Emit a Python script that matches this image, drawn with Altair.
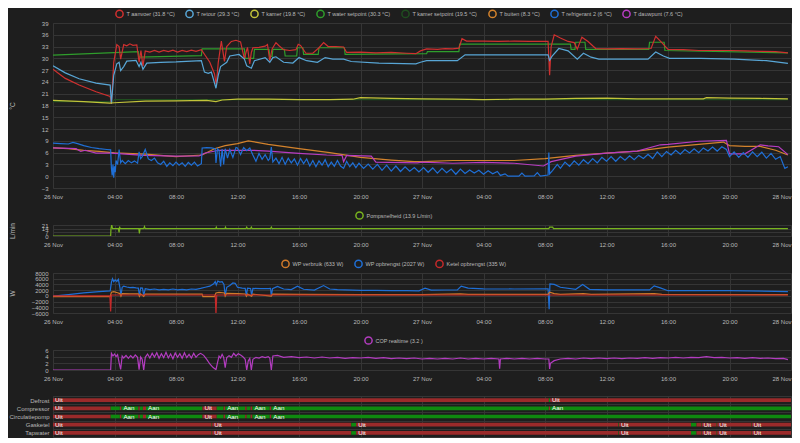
import altair as alt
import pandas as pd

BG = "#1e1e1e"
GRID = "#353535"
TXT = "#b9b9b9"
FONT = "Liberation Sans"
W = 738

hour_ticks = list(range(0, 49, 4))
x_label_expr = ("datum.value % 24 == 0 ? (26 + datum.value / 24) + ' Nov' : "
                "(datum.value % 24 < 10 ? '0' : '') + (datum.value % 24) + ':00'")

# ---------------- main temperature panel ----------------
main_names = ["T aanvoer (31.8 °C)", "T retour (29.3 °C)", "T kamer (19.8 °C)",
              "T water setpoint (30.3 °C)", "T kamer setpoint (19.5 °C)",
              "T buiten (8.3 °C)", "T refrigerant 2 (6 °C)", "T dauwpunt (7.6 °C)"]
main_colors = ["#d0302f", "#58a6d6", "#c3c43a", "#2f9e2c", "#1f4d1f",
               "#d4832c", "#1f6fd6", "#b83cc2"]

aanvoer = [(0, 27.2), (0.8, 24.9), (1.7, 23.2), (2.8, 21.5), (3.72, 20.3), (3.8, 18.4), (3.95, 29.0),
           (4.15, 33.5), (4.3, 33.0), (4.4, 29.8), (4.6, 33.5), (4.8, 33.2), (5.0, 33.7), (5.2, 33.3),
           (5.45, 33.4), (5.6, 29.0), (5.72, 32.0), (5.85, 28.0), (6.0, 31.9), (6.3, 31.6), (6.6, 32.0),
           (6.9, 31.6), (7.2, 32.0), (7.5, 31.7), (7.8, 32.1), (8.1, 31.6), (8.4, 32.0), (8.7, 31.7),
           (9.0, 32.1), (9.3, 31.8), (9.65, 32.2), (10.2, 29.0), (10.5, 26.1), (10.62, 23.3), (10.75, 29.0),
           (10.95, 34.4), (11.15, 29.2), (11.3, 33.0), (11.6, 34.3), (11.9, 34.6), (12.2, 34.2),
           (12.45, 29.8), (12.55, 31.5), (12.65, 32.8), (12.8, 28.6), (12.9, 31.5), (13.0, 32.7),
           (13.4, 32.8), (13.8, 33.1), (13.95, 33.5), (14.1, 29.4), (14.25, 32.4), (14.5, 34.0),
           (14.7, 33.2), (15.0, 32.2), (15.4, 32.0), (15.8, 32.2), (15.95, 33.6), (16.1, 33.3),
           (16.45, 31.3), (16.9, 31.3), (17.3, 32.7), (17.6, 34.0), (17.9, 33.0), (18.4, 33.0),
           (18.9, 32.9), (19.1, 31.5), (20.0, 31.6), (21.0, 31.4), (22.0, 31.5), (23.0, 31.3),
           (23.6, 31.2), (23.9, 31.9), (24.3, 32.4), (25.0, 32.3), (25.5, 32.5), (26.0, 32.4),
           (26.4, 32.6), (26.6, 35.0), (26.9, 34.4), (28.0, 34.4), (29.0, 34.3), (30.0, 34.4),
           (31.0, 34.3), (32.2, 34.3), (32.3, 25.7), (32.4, 33.0), (32.6, 36.0), (33.0, 35.2),
           (33.5, 34.3), (33.9, 34.0), (34.1, 32.3), (34.4, 35.4), (34.8, 34.3), (35.1, 33.2),
           (35.3, 32.5), (36.0, 32.4), (37.0, 32.5), (38.0, 32.4), (38.9, 32.5), (39.2, 35.6),
           (39.6, 34.0), (40.0, 32.3), (41.0, 32.2), (42.0, 32.0), (43.0, 32.0), (44.0, 32.0),
           (45.0, 31.9), (46.0, 31.8), (47.0, 31.7), (47.8, 31.4)]

retour = [(0, 28.1), (0.8, 26.3), (1.7, 24.8), (2.8, 23.7), (3.72, 23.2), (3.8, 18.5), (3.95, 25.7),
          (4.15, 28.6), (4.3, 29.0), (4.4, 26.9), (4.6, 27.9), (4.8, 29.3), (5.4, 29.5), (5.6, 27.9),
          (5.72, 29.0), (5.85, 27.2), (6.1, 28.8), (7.0, 29.0), (8.0, 29.1), (9.0, 29.3), (9.65, 29.4),
          (9.85, 26.5), (10.1, 26.2), (10.3, 26.5), (10.6, 22.4), (10.75, 25.7), (10.9, 27.9),
          (11.3, 29.0), (11.5, 30.6), (12.1, 31.0), (12.45, 29.8), (12.6, 28.1), (12.9, 27.5),
          (13.1, 29.4), (13.8, 30.2), (14.1, 29.0), (14.3, 30.2), (14.5, 30.4), (15.0, 29.0),
          (15.6, 28.8), (16.0, 30.2), (16.5, 29.4), (17.2, 29.0), (17.7, 30.2), (18.2, 29.8),
          (18.9, 29.8), (19.4, 29.2), (21.2, 28.8), (23.6, 28.6), (23.9, 29.0), (24.3, 29.4),
          (26.3, 29.4), (26.8, 30.9), (29.0, 30.9), (32.2, 30.9), (32.3, 29.5), (32.45, 30.5),
          (32.9, 32.5), (33.5, 31.9), (34.1, 29.8), (34.5, 31.3), (35.0, 30.3), (35.5, 29.8),
          (38.7, 29.8), (39.2, 31.6), (39.7, 30.6), (40.1, 30.0), (42.1, 30.0), (44.3, 29.8),
          (46.4, 29.4), (47.8, 28.7)]

kamer = [(0, 19.3), (2, 19.0), (3.7, 18.6), (4.0, 18.7), (6, 19.1), (8, 19.2), (10, 19.3), (10.6, 19.0),
         (11, 19.4), (12, 19.6), (14, 19.6), (16, 19.5), (18, 19.5), (19.5, 19.6), (20, 20.0), (22, 19.8),
         (24, 19.7), (26, 19.6), (28, 19.5), (30, 19.6), (32, 19.6), (34, 19.8), (36, 19.9), (38, 19.7),
         (40, 19.7), (42.3, 19.7), (42.5, 20.0), (44, 19.9), (46, 19.8), (47.8, 19.7)]

water_setpoint = [(0, 30.8), (5.55, 31.7), (5.6, 30.3), (9.65, 30.7), (9.7, 32.4), (12.45, 32.4),
                  (12.5, 30.0), (13.05, 30.0), (13.1, 32.3), (14.05, 32.3), (14.1, 30.5), (14.25, 30.5),
                  (14.3, 32.3), (15.05, 32.3), (15.1, 30.6), (15.85, 30.6), (15.9, 32.7), (16.25, 32.7),
                  (16.3, 31.0), (17.25, 31.0), (17.3, 32.7), (18.95, 32.7), (19.0, 31.0), (24.3, 31.2),
                  (24.35, 31.7), (26.4, 31.7), (26.45, 33.6), (33.65, 33.6), (33.7, 32.3), (33.95, 32.3),
                  (34.0, 34.1), (34.6, 34.1), (34.65, 32.3), (38.75, 32.3), (38.8, 34.1), (39.75, 34.1),
                  (39.8, 32.0), (47.8, 31.4)]

kamer_setpoint = [(0, 19.0), (3.9, 19.0), (4.0, 19.5), (47.8, 19.5)]

buiten = [(0, 7.2), (1, 7.0), (2, 6.6), (3, 6.3), (4, 5.95), (6, 5.6), (8, 5.0), (9.7, 5.4), (10.5, 7.0),
          (11.2, 7.8), (12, 8.3), (12.7, 9.0), (14, 8.1), (16, 7.0), (18, 6.0), (20, 4.8), (22, 4.1),
          (23.5, 3.7), (24, 3.7), (26, 4.0), (28, 4.0), (30, 4.0), (32, 4.5), (34, 5.3), (36, 5.9),
          (38, 6.4), (40, 7.4), (42, 8.1), (43.6, 8.7), (44, 7.8), (45, 7.6), (46, 7.6), (47, 6.6),
          (47.8, 5.4)]

refrigerant = [(0, 8.4), (0.5, 8.3), (1.0, 8.2), (1.3, 8.6), (1.6, 8.3), (2.0, 7.8), (2.5, 7.3), (3.0, 7.0),
               (3.5, 6.8), (3.75, 6.7), (3.8, 2.0), (3.85, 0.2), (3.9, 3.0), (3.95, -0.4), (4.0, 2.5),
               (4.05, 1.0), (4.1, 4.0), (4.2, 3.0), (4.3, 6.8), (4.4, 3.4), (4.5, 4.0), (4.7, 3.2),
               (4.9, 4.0), (5.1, 3.4), (5.3, 3.9), (5.5, 3.3), (5.6, 6.2), (5.7, 4.5), (5.8, 5.0),
               (6.0, 6.8), (6.2, 4.4), (6.4, 4.0), (6.6, 4.6), (6.8, 3.4), (7.0, 3.0), (7.2, 3.8),
               (7.4, 2.5), (7.6, 3.4), (7.8, 2.7), (8.0, 3.6), (8.2, 2.8), (8.4, 3.4), (8.6, 2.5),
               (8.8, 3.5), (9.0, 2.8), (9.2, 3.6), (9.4, 2.6), (9.65, 3.2), (9.7, 7.2), (10.0, 7.3),
               (10.3, 7.2), (10.55, 7.0), (10.6, 3.4), (10.7, 7.0), (10.8, 6.5), (10.9, 2.5), (11.0, 6.9),
               (11.1, 3.0), (11.2, 7.0), (11.35, 4.6), (11.5, 6.8), (11.7, 4.8), (11.9, 7.3), (12.0, 7.2),
               (12.2, 5.5), (12.4, 7.3), (12.6, 6.5), (12.8, 7.2), (13.0, 5.4), (13.2, 3.8), (13.4, 5.8),
               (13.6, 4.3), (13.8, 5.5), (14.0, 4.0), (14.1, 4.5), (14.2, 7.4), (14.3, 3.6), (14.5, 4.6),
               (14.7, 3.2), (14.9, 4.8), (15.1, 3.0), (15.3, 4.6), (15.5, 3.4), (15.7, 4.4), (15.9, 2.8),
               (16.1, 4.5), (16.3, 3.2), (16.5, 4.4), (16.7, 2.6), (16.9, 4.0), (17.1, 2.4), (17.3, 3.9),
               (17.5, 2.8), (17.7, 4.2), (17.9, 2.4), (18.1, 3.6), (18.3, 2.5), (18.5, 4.0), (18.7, 2.6),
               (18.9, 2.0), (19.1, 3.8), (19.3, 2.4), (19.5, 3.4), (19.7, 2.2), (19.9, 3.3), (20.2, 2.0),
               (20.5, 3.1), (20.8, 1.8), (21.1, 3.0), (21.4, 1.5), (21.7, 2.8), (22.0, 1.3), (22.3, 2.6),
               (22.6, 1.2), (22.9, 2.4), (23.2, 1.3), (23.5, 2.2), (23.8, 1.1), (24.1, 2.2), (24.4, 1.0),
               (24.7, 2.1), (25.0, 0.8), (25.3, 2.0), (25.6, 0.9), (25.9, 1.8), (26.2, 0.5), (26.5, 1.8),
               (26.8, 0.7), (27.1, 1.6), (27.4, 0.8), (27.7, 1.5), (28.0, 0.5), (28.3, 1.4), (28.6, 0.6),
               (28.9, 1.2), (29.1, 0.2), (29.4, 0.6), (29.6, 0.0), (30.3, 0.0), (30.5, 0.8), (30.7, 0.0),
               (31.3, 0.1), (31.5, 0.9), (31.7, 0.0), (32.2, 0.3), (32.25, 6.0), (32.3, 0.6), (32.5, 1.5),
               (32.8, 3.0), (33.0, 2.0), (33.3, 3.6), (33.6, 2.5), (33.9, 3.9), (34.2, 2.8), (34.5, 4.2),
               (34.8, 3.2), (35.1, 4.5), (35.4, 3.4), (35.7, 4.8), (36.0, 3.8), (36.3, 5.0), (36.6, 3.8),
               (36.9, 5.0), (37.2, 4.1), (37.5, 5.2), (37.8, 4.2), (38.1, 5.3), (38.4, 4.5), (38.7, 5.6),
               (39.0, 4.5), (39.3, 6.2), (39.6, 5.0), (39.9, 6.3), (40.2, 5.4), (40.5, 6.6), (40.8, 5.6),
               (41.1, 6.8), (41.4, 5.9), (41.7, 7.0), (42.0, 6.0), (42.3, 7.2), (42.6, 6.4), (42.9, 7.4),
               (43.2, 6.4), (43.5, 7.5), (43.8, 6.8), (44.0, 5.0), (44.3, 6.2), (44.6, 4.8), (44.9, 6.0),
               (45.2, 4.8), (45.5, 6.2), (45.8, 5.0), (46.1, 6.1), (46.4, 4.6), (46.7, 5.8), (47.0, 4.3),
               (47.3, 5.0), (47.6, 2.0), (47.8, 2.4)]

dauwpunt = [(0, 7.2), (1.5, 7.0), (1.8, 6.3), (2.1, 6.6), (2.8, 5.9), (3.8, 5.9), (5.9, 5.3), (8, 5.1),
            (9.5, 5.2), (9.9, 5.9), (10.8, 6.6), (12, 6.6), (13, 6.6), (14, 6.4), (16, 5.8), (17.8, 5.4),
            (18.8, 5.3), (18.9, 3.7), (19.1, 5.3), (20.7, 5.1), (21.0, 3.6), (23.7, 3.4), (24, 3.6),
            (26, 3.3), (28, 3.5), (30, 3.3), (31.9, 2.6), (32.4, 3.7), (34, 5.1), (36, 5.9), (38, 6.4),
            (39.5, 8.0), (40, 8.1), (42, 8.9), (43.8, 9.1), (44.0, 5.7), (45, 5.7), (46, 8.0), (46.5, 7.7),
            (47.2, 7.5), (47.8, 5.5)]

main_series = [aanvoer, retour, kamer, water_setpoint, kamer_setpoint, buiten, refrigerant, dauwpunt]
main_draw_order = [4, 3, 0, 1, 2, 5, 7, 6]

# ---------------- pump speed ----------------
pump_names = ["Pompsnelheid (13.9 L/min)"]
pump_colors = ["#78b41e"]
pompsnelheid = [(0, 0), (3.75, 0), (3.77, 13.9), (3.82, 21), (3.87, 13.9), (4.25, 13.9), (4.3, 7),
                (4.33, 18), (4.37, 13.9), (5.58, 13.9), (5.62, 5), (5.66, 13.9), (5.9, 13.9), (5.95, 18),
                (6.0, 13.9), (10.58, 13.9), (10.62, 17), (10.66, 13.9), (11.18, 13.9), (11.22, 17),
                (11.26, 13.9), (12.55, 13.9), (12.6, 17), (12.65, 13.9), (12.85, 13.9), (12.9, 17),
                (12.95, 13.9), (14.15, 13.9), (14.2, 17), (14.25, 13.9), (32.25, 13.9), (32.3, 17),
                (32.5, 17), (32.55, 13.9), (47.8, 13.9)]

# ---------------- power ----------------
power_names = ["WP verbruik (633 W)", "WP opbrengst (2027 W)", "Ketel opbrengst (335 W)"]
power_colors = ["#d07a2a", "#1f6fd6", "#c52a2a"]
wp_verbruik = [(0, -250), (3.72, -250), (3.8, 1300), (3.95, 1500), (4.2, 1100), (4.35, 800), (4.42, -150),
               (4.5, 800), (5.0, 700), (5.55, 700), (5.62, -150), (5.7, 700), (5.9, -150), (6.0, 600),
               (9.7, 600), (9.75, -250), (10.5, -250), (10.6, 1000), (10.8, 1200), (11.15, 1000),
               (11.2, -100), (11.3, 900), (12.0, 800), (12.5, 650), (12.58, -100), (12.65, 600),
               (12.92, -100), (13.0, 600), (14.2, -100), (14.28, 600), (16, 500), (20, 450), (24, 450),
               (26.5, 700), (27, 500), (32.2, 500), (32.3, 1300), (32.6, 800), (33, 550), (34.5, 800),
               (35, 500), (39.1, 750), (39.6, 500), (47.8, 400)]
wp_opbrengst = [(0, -100), (1, 460), (2, 1040), (3, 1510), (3.72, 1750), (3.8, 4800), (3.87, 6000),
                (3.95, 5000), (4.05, 5600), (4.15, 5000), (4.25, 5800), (4.35, 3000), (4.42, 100),
                (4.5, 3000), (4.6, 3400), (4.8, 3100), (5.0, 2900), (5.2, 3000), (5.4, 2800), (5.55, 2700),
                (5.62, 100), (5.7, 2800), (5.82, 2700), (5.9, 100), (6.0, 2500), (6.3, 2200), (6.6, 2400),
                (6.9, 2100), (7.2, 2300), (7.5, 2100), (7.8, 2400), (8.1, 2100), (8.4, 2300), (8.7, 2100),
                (9.0, 2400), (9.3, 2300), (9.6, 2600), (9.9, 3000), (10.2, 3400), (10.45, 4200),
                (10.55, 5000), (10.62, 3800), (10.72, 5200), (10.85, 4800), (11.0, 5000), (11.12, 4000),
                (11.2, 100), (11.3, 3000), (11.5, 3600), (11.7, 4500), (11.85, 4400), (12.0, 3000),
                (12.3, 2700), (12.5, 2600), (12.58, 100), (12.65, 2700), (12.85, 2600), (12.92, 100),
                (13.0, 2600), (13.5, 2500), (14.0, 2500), (14.15, 2600), (14.2, 0), (14.28, 2500),
                (14.6, 3300), (15.0, 2400), (15.5, 2200), (15.9, 3400), (16.3, 2300), (17.0, 2000),
                (17.6, 3600), (18.0, 2400), (18.5, 2200), (19, 2100), (20, 1900), (21, 1900), (22, 1850),
                (23, 1800), (23.8, 1750), (24.2, 2700), (24.6, 2000), (25.5, 2050), (26.3, 2100),
                (26.55, 3400), (27.0, 2700), (28, 2450), (30, 2400), (32.2, 2450), (32.27, -4700),
                (32.32, 4200), (32.6, 4000), (33, 3000), (34, 2300), (34.45, 4000), (34.9, 2300),
                (36, 2100), (38.8, 2100), (39.1, 3500), (39.5, 2800), (40, 1800), (44, 1800), (47.8, 1500)]
ketel_opbrengst = [(0, 0), (3.7, 0), (3.75, -5500), (3.8, 300), (10.55, 300), (10.6, -6300),
                   (10.65, 300), (47.8, 300)]
power_series = [wp_verbruik, wp_opbrengst, ketel_opbrengst]

# ---------------- COP ----------------
cop_names = ["COP realtime (3.2 )"]
cop_colors = ["#b33cc0"]
cop = [(0, 0), (3.75, 0), (3.8, 5.0), (3.9, 4.2), (4.0, 4.8), (4.1, 4.0), (4.2, 4.6), (4.3, 2.2),
       (4.4, 0.2), (4.5, 4.2), (4.6, 3.6), (4.75, 4.4), (4.9, 3.5), (5.05, 4.3), (5.2, 3.6), (5.35, 4.5),
       (5.5, 3.8), (5.6, 0.1), (5.7, 3.9), (5.8, 3.2), (5.9, 0.0), (6.0, 3.8), (6.15, 4.8), (6.3, 3.6),
       (6.45, 5.0), (6.6, 3.9), (6.75, 5.2), (6.9, 3.5), (7.05, 4.9), (7.2, 3.7), (7.35, 5.3), (7.5, 3.6),
       (7.65, 4.8), (7.8, 3.4), (7.95, 5.1), (8.1, 3.8), (8.25, 4.9), (8.4, 3.5), (8.55, 5.2), (8.7, 3.7),
       (8.85, 4.7), (9.0, 3.6), (9.15, 5.0), (9.3, 3.8), (9.45, 4.6), (9.6, 5.0), (9.8, 4.4), (10.0, 3.2),
       (10.2, 1.8), (10.4, 0.8), (10.6, 0.1), (10.7, 2.2), (10.8, 4.2), (10.9, 3.6), (11.0, 4.7),
       (11.1, 3.8), (11.2, 0.7), (11.3, 3.7), (11.45, 4.3), (11.6, 3.8), (11.75, 5.0), (11.9, 4.2),
       (12.05, 4.9), (12.2, 4.5), (12.35, 4.0), (12.5, 3.2), (12.6, 0.0), (12.7, 2.7), (12.8, 3.5),
       (12.9, 0.0), (13.0, 3.2), (13.2, 3.8), (13.4, 3.6), (13.6, 4.0), (13.8, 3.7), (14.0, 4.0),
       (14.1, 3.6), (14.2, 0.0), (14.3, 4.2), (14.6, 4.4), (15.0, 3.8), (15.5, 4.0), (16, 3.7),
       (16.5, 3.9), (17, 3.6), (17.5, 3.9), (18, 3.6), (18.5, 3.8), (19, 3.5), (19.5, 3.7), (20, 3.6),
       (20.5, 3.8), (21, 3.5), (21.5, 3.7), (22, 3.4), (22.5, 3.6), (23, 3.4), (23.5, 3.6), (24, 3.3),
       (24.5, 3.5), (25, 3.3), (25.5, 3.5), (26, 3.3), (26.5, 3.6), (27, 3.3), (27.5, 3.5), (28, 3.3),
       (28.5, 3.5), (29.0, 3.3), (29.05, 0.4), (29.1, 3.3), (29.5, 3.5), (30, 3.3), (30.5, 3.5), (31, 3.3),
       (31.5, 3.5), (32.0, 3.3), (32.25, 3.3), (32.3, 0.3), (32.35, 2.0), (32.6, 2.8), (33, 3.3),
       (33.5, 3.5), (34, 3.3), (34.5, 3.6), (35, 3.4), (35.5, 3.6), (36, 3.4), (36.5, 3.6), (37, 3.4),
       (37.5, 3.6), (38, 3.5), (38.5, 3.7), (39, 3.5), (39.5, 3.7), (40, 3.6), (40.5, 3.8), (41, 3.6),
       (41.5, 3.8), (42, 3.7), (42.5, 4.0), (43, 3.7), (43.5, 3.8), (44, 3.6), (44.5, 3.7), (45, 3.5),
       (45.5, 3.7), (46, 3.5), (46.5, 3.6), (47, 3.4), (47.5, 3.5), (47.8, 3.1)]

# ---------------- status timeline ----------------
status_rows = ["Defrost", "Compressor", "Circulatiepomp", "Gasketel", "Tapwater"]
status_states = ["Uit", "Aan"]
status_colors = ["#9b2a2a", "#0f8a0f"]
defrost_seg = [(0, 32.25, "Uit", 1), (32.25, 32.33, "Aan", 0), (32.33, 48, "Uit", 1)]
compressor_seg = [(0, 3.75, "Uit", 1), (3.75, 4.35, "Aan", 0), (4.35, 4.45, "Uit", 0), (4.45, 5.55, "Aan", 1),
                  (5.55, 5.65, "Uit", 0), (5.65, 5.85, "Aan", 0), (5.85, 6.05, "Uit", 0), (6.05, 9.72, "Aan", 1),
                  (9.72, 10.65, "Uit", 1), (10.65, 11.1, "Aan", 0), (11.1, 11.2, "Uit", 0), (11.2, 12.5, "Aan", 1),
                  (12.5, 12.6, "Uit", 0), (12.6, 12.85, "Aan", 0), (12.85, 12.97, "Uit", 0),
                  (12.97, 14.1, "Aan", 1), (14.1, 14.2, "Uit", 0), (14.2, 32.25, "Aan", 1),
                  (32.25, 32.33, "Uit", 0), (32.33, 48, "Aan", 1)]
circulatiepomp_seg = [(0, 3.75, "Uit", 1), (3.75, 4.35, "Aan", 0), (4.35, 4.45, "Uit", 0), (4.45, 5.55, "Aan", 1),
                      (5.55, 5.65, "Uit", 0), (5.65, 5.85, "Aan", 0), (5.85, 6.05, "Uit", 0),
                      (6.05, 9.72, "Aan", 1), (9.72, 10.65, "Uit", 1), (10.65, 11.1, "Aan", 0),
                      (11.1, 11.2, "Uit", 0), (11.2, 12.5, "Aan", 1), (12.5, 12.6, "Uit", 0),
                      (12.6, 12.85, "Aan", 0), (12.85, 12.97, "Uit", 0), (12.97, 14.1, "Aan", 1),
                      (14.1, 14.2, "Uit", 0), (14.2, 48, "Aan", 1)]
gasketel_seg = [(0, 10.32, "Uit", 1), (10.32, 10.35, "Aan", 0), (10.35, 19.4, "Uit", 1),
                (19.4, 19.72, "Aan", 0), (19.72, 36.78, "Uit", 1), (36.78, 36.81, "Aan", 0),
                (36.81, 41.5, "Uit", 1), (41.5, 41.85, "Aan", 0), (41.85, 42.15, "Uit", 0),
                (42.15, 42.18, "Aan", 0), (42.18, 43.17, "Uit", 1), (43.17, 43.2, "Aan", 0),
                (43.2, 45.4, "Uit", 1), (45.4, 45.43, "Aan", 0), (45.43, 48, "Uit", 1)]
tapwater_seg = [(0, 10.32, "Uit", 1), (10.32, 10.35, "Aan", 0), (10.35, 19.4, "Uit", 1),
                (19.4, 19.72, "Aan", 0), (19.72, 36.78, "Uit", 1), (36.78, 36.81, "Aan", 0),
                (36.81, 41.5, "Uit", 1), (41.5, 41.85, "Aan", 0), (41.85, 42.15, "Uit", 0),
                (42.15, 42.18, "Aan", 0), (42.18, 43.17, "Uit", 1), (43.17, 43.2, "Aan", 0),
                (43.2, 45.4, "Uit", 1), (45.4, 45.43, "Aan", 0), (45.43, 48, "Uit", 1)]
status_segments = [defrost_seg, compressor_seg, circulatiepomp_seg, gasketel_seg, tapwater_seg]


def long_df(names, series, order=None):
    idx = order if order is not None else range(len(names))
    rows = []
    for i in idx:
        for t, v in series[i]:
            rows.append({"t": t, "v": v, "s": names[i]})
    return pd.DataFrame(rows)


last_label_align = {"condition": {"test": "datum.value == 48", "value": "right"}, "value": "center"}


def xenc(show=True):
    return alt.X("t:Q", scale=alt.Scale(domain=[0, 48], nice=False, zero=False),
                 axis=alt.Axis(values=hour_ticks, labelExpr=x_label_expr, labelFlush=False,
                               labelAlign=last_label_align, title=None, grid=True, labels=show,
                               labelPadding=5))


def leg(x, n):
    return alt.Legend(orient="none", legendX=x, legendY=-14, direction="horizontal", columns=n,
                      title=None, symbolType="circle", symbolSize=52, symbolStrokeWidth=1.5,
                      symbolFillColor="transparent", labelFontSize=5.5, labelColor=TXT,
                      labelFont=FONT, labelOffset=2.5, columnPadding=7, padding=0, labelLimit=300)


def yaxis(values, title=None, fmt=None):
    kw = dict(values=values, labelPadding=5, grid=True, labelOverlap=False)
    if fmt:
        kw["format"] = fmt
    if title:
        kw.update(title=title, titleX=-41, titleAngle=270, titleAlign="center", titleBaseline="middle")
    else:
        kw["title"] = None
    return alt.Axis(**kw)


main_df = long_df(main_names, main_series, main_draw_order)
main = alt.Chart(main_df).mark_line(strokeWidth=1.2, clip=True).encode(
    x=xenc(),
    y=alt.Y("v:Q", scale=alt.Scale(domain=[-3, 39], nice=False, zero=False),
            axis=yaxis(list(range(-3, 40, 3)), "°C")),
    color=alt.Color("s:N", scale=alt.Scale(domain=main_names, range=main_colors), legend=leg(62, 8)),
).properties(width=W, height=165)

pump_df = long_df(pump_names, [pompsnelheid])
pump = alt.Chart(pump_df).mark_line(strokeWidth=1.2, clip=True).encode(
    x=xenc(),
    y=alt.Y("v:Q", scale=alt.Scale(domain=[0, 21], nice=False, zero=False),
            axis=yaxis([0, 7, 14, 21], "L/min")),
    color=alt.Color("s:N", scale=alt.Scale(domain=pump_names, range=pump_colors), legend=leg(302, 1)),
).properties(width=W, height=11)

power_df = long_df(power_names, power_series, [1, 0, 2])
power = alt.Chart(power_df).mark_line(strokeWidth=1.2, clip=True).encode(
    x=xenc(),
    y=alt.Y("v:Q", scale=alt.Scale(domain=[-6000, 8000], nice=False, zero=False),
            axis=yaxis(list(range(-6000, 8001, 2000)), "W", "d")),
    color=alt.Color("s:N", scale=alt.Scale(domain=power_names, range=power_colors), legend=leg(228, 3)),
).properties(width=W, height=40)

cop_df = long_df(cop_names, [cop])
cop_chart = alt.Chart(cop_df).mark_line(strokeWidth=1.2, clip=True).encode(
    x=xenc(),
    y=alt.Y("v:Q", scale=alt.Scale(domain=[0, 6], nice=False, zero=False),
            axis=yaxis([0, 2, 4, 6])),
    color=alt.Color("s:N", scale=alt.Scale(domain=cop_names, range=cop_colors), legend=leg(311, 1)),
).properties(width=W, height=20)

st_rows = []
for row, segs in zip(status_rows, status_segments):
    for a, b, state, lab in segs:
        st_rows.append({"row": row, "a": a, "b": b, "state": state, "lab": lab})
status_df = pd.DataFrame(st_rows)

st_x = alt.X("a:Q", scale=alt.Scale(domain=[0, 48], nice=False, zero=False),
             axis=alt.Axis(values=hour_ticks, labels=False, title=None, grid=True))
st_y = alt.Y("row:N", scale=alt.Scale(domain=status_rows, paddingInner=0, paddingOuter=0),
             axis=alt.Axis(title=None, tickBand="extent", grid=True, labelPadding=4, labelFontSize=6))
bars = alt.Chart(status_df).mark_bar(height={"band": 0.45}).encode(
    x=st_x, x2="b:Q", y=st_y,
    color=alt.Color("state:N", scale=alt.Scale(domain=status_states, range=status_colors), legend=None),
)
labels = alt.Chart(status_df).transform_filter("datum.lab == 1").mark_text(
    align="left", baseline="middle", dx=2, fontSize=6.25, font=FONT, color="#ffffff"
).encode(x=st_x, y=st_y, text="state:N")
status = alt.layer(bars, labels).properties(width=W, height=41)

chart = alt.vconcat(main, pump, power, cop_chart, status, spacing=10).resolve_scale(
    color="independent", x="independent", y="independent"
).properties(background=BG, padding=0).configure_view(
    stroke=GRID, strokeWidth=1
).configure_axis(
    labelFont=FONT, labelFontSize=6, labelColor=TXT, gridColor=GRID, gridWidth=1,
    domain=False, ticks=False, tickSize=0, titleFont=FONT, titleFontSize=6.5,
    titleColor=TXT, titleFontWeight="normal"
)

chart.save("out.html", embed_options={"renderer": "svg", "actions": False})
